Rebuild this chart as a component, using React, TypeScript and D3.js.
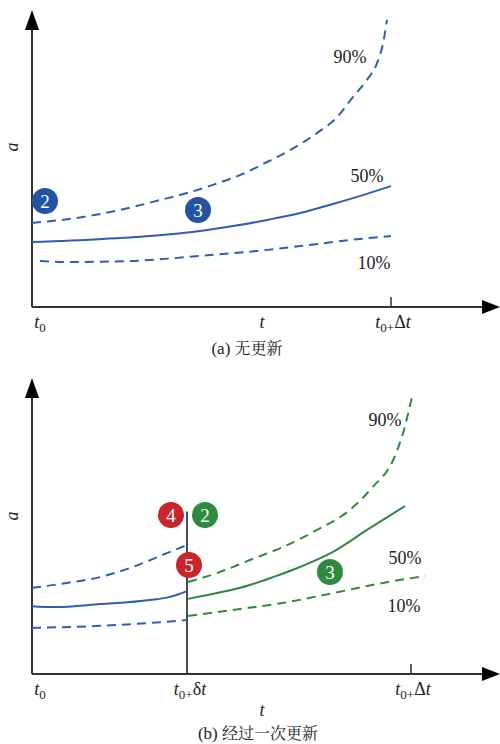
import React from 'react'
import * as d3 from 'd3'

// time in % of Δt, value a in % of plot height
const topP90 = [[0, 29], [12.5, 30.7], [28.1, 34.5], [35.7, 36.9], [43.2, 39.3], [50.4, 42.1], [57.9, 45.5], [65.5, 50], [71.9, 54.1], [79.4, 60], [85, 65.5], [89.4, 72.4], [93.3, 78.3], [96.1, 84.1], [97.8, 91], [98.9, 99]]
const topP50 = [[0, 22.4], [18.7, 23.4], [32.9, 24.5], [46.8, 26.2], [56, 27.9], [65.5, 30], [74.7, 32.4], [83.8, 35.5], [93.3, 39], [100, 41.7]]
const topP10 = [[2.2, 15.9], [9.7, 15.5], [28.1, 15.9], [46.8, 17.6], [65.5, 19.7], [74.7, 21], [88.6, 23.1], [100, 24.5]]

const oldP90 = [[0, 29.7], [9.2, 31.4], [17.9, 33.4], [26.6, 36.9], [35.6, 41.7], [40.9, 44.5]]
const oldP50 = [[0, 23.4], [6.1, 23.1], [17.9, 24.1], [31.1, 25.5], [36.4, 26.6], [40.9, 28.6]]
const oldP10 = [[0, 15.9], [17.9, 16.6], [31.1, 17.6], [40.9, 18.6]]

const newP90 = [[41.2, 31.7], [48.8, 34.8], [57.5, 39.3], [66.2, 43.8], [75.2, 49.7], [83.9, 56.6], [89.9, 64.5], [95.3, 73.8], [97.9, 83.1], [100.5, 96.9]]
const newP50 = [[41.2, 25.9], [48.8, 27.9], [57.5, 30.7], [63.6, 33.4], [70.7, 36.9], [79.4, 42.1], [88.4, 49.7], [98.4, 57.9]]
const newP10 = [[41.2, 20], [53, 22.1], [66.2, 24.5], [79.4, 27.9], [92.6, 31.4], [103.7, 33.8]]

const updateT = 40.9
const updateTop = 56

const BLUE = '#2f5db5'
const BLUE_DOT = '#2553a3'
const GREEN = '#2f8a40'
const RED = '#c9252c'
const AXIS = '#333'
const SERIF = "'Liberation Serif'"
const CJK = "'Noto Serif CJK SC'"

type Pt = number[]

function Curve({ pts, x, y, color, dashed }: { pts: Pt[]; x: any; y: any; color: string; dashed?: boolean }) {
  const line = d3.line<Pt>().x(d => x(d[0])).y(d => y(d[1])).curve(d3.curveMonotoneX)
  return <path d={line(pts) || ''} fill="none" stroke={color} strokeWidth={2} strokeDasharray={dashed ? '9,6' : undefined} />
}

function Badge({ cx, cy, n, color }: { cx: number; cy: number; n: string; color: string }) {
  return (
    <g>
      <circle cx={cx} cy={cy} r={13} fill={color} />
      <text x={cx} y={cy + 6.5} textAnchor="middle" fill="#fff" style={{ fontSize: 19, fontFamily: SERIF }}>{n}</text>
    </g>
  )
}

function Label({ x, y, children, size = 18, italic, anchor = 'middle', transform }: any) {
  return (
    <text x={x} y={y} transform={transform} textAnchor={anchor} fill="#222"
      style={{ fontSize: size, fontFamily: SERIF, fontStyle: italic ? 'italic' : 'normal' }}>{children}</text>
  )
}

function TickLabel({ x, y, delta }: { x: number; y: number; delta?: string }) {
  return (
    <Label x={x} y={y}>
      <tspan style={{ fontStyle: 'italic' }}>t</tspan>
      <tspan style={{ fontSize: 13 }} dy={4}>0{delta ? '+' : ''}</tspan>
      {delta ? <tspan dy={-4}>{delta}<tspan style={{ fontStyle: 'italic' }}>t</tspan></tspan> : null}
    </Label>
  )
}

function Caption({ x, y, tag, zh }: { x: number; y: number; tag: string; zh: string }) {
  return (
    <text x={x} y={y} textAnchor="middle" fill="#222" style={{ fontSize: 17, fontFamily: SERIF }}>
      {tag} <tspan style={{ fontFamily: CJK, fontSize: 16 }}>{zh}</tspan>
    </text>
  )
}

function Axes({ x0, y0, yTop, xEnd }: { x0: number; y0: number; yTop: number; xEnd: number }) {
  return (
    <g>
      <line x1={x0} y1={y0} x2={x0} y2={yTop + 18} stroke={AXIS} strokeWidth={2} />
      <path d={`M${x0},${yTop} L${x0 - 7},${yTop + 20} L${x0 + 7},${yTop + 20} Z`} fill="#000" />
      <line x1={x0} y1={y0} x2={xEnd - 16} y2={y0} stroke={AXIS} strokeWidth={2} />
      <path d={`M${xEnd},${y0} L${xEnd - 18},${y0 - 7} L${xEnd - 18},${y0 + 7} Z`} fill="#000" />
    </g>
  )
}

export default function App() {
  // panel (a)
  const xa = d3.scaleLinear().domain([0, 100]).range([32, 391])
  const ya = d3.scaleLinear().domain([0, 100]).range([307, 17])
  // panel (b)
  const xb = d3.scaleLinear().domain([0, 100]).range([32, 411])
  const yb = d3.scaleLinear().domain([0, 100]).range([674, 384])

  return (
    <svg width={500} height={744} style={{ position: 'absolute', left: 0, top: 0, background: '#fff' }}>
      {/* (a) */}
      <Axes x0={xa(0)} y0={ya(0)} yTop={10} xEnd={500} />
      <line x1={xa(100)} x2={xa(100)} y1={ya(0)} y2={ya(0) - 10} stroke={AXIS} strokeWidth={1.5} />
      <Curve pts={topP90} x={xa} y={ya} color={BLUE} dashed />
      <Curve pts={topP50} x={xa} y={ya} color={BLUE} />
      <Curve pts={topP10} x={xa} y={ya} color={BLUE} dashed />
      <Label x={350} y={63}>90%</Label>
      <Label x={367} y={182}>50%</Label>
      <Label x={374} y={269}>10%</Label>
      <Badge cx={45} cy={201} n="2" color={BLUE_DOT} />
      <Badge cx={198} cy={210} n="3" color={BLUE_DOT} />
      <Label x={0} y={0} transform="translate(18,147) rotate(-90)" italic>a</Label>
      <TickLabel x={40} y={328} />
      <Label x={262} y={328} italic>t</Label>
      <TickLabel x={393} y={328} delta="Δ" />
      <Caption x={247} y={354} tag="(a)" zh="无更新" />

      {/* (b) */}
      <Axes x0={xb(0)} y0={yb(0)} yTop={378} xEnd={500} />
      <line x1={xb(100)} x2={xb(100)} y1={yb(0)} y2={yb(0) - 10} stroke={AXIS} strokeWidth={1.5} />
      <line x1={xb(updateT)} x2={xb(updateT)} y1={yb(0)} y2={yb(updateTop)} stroke="#111" strokeWidth={1.5} />
      <Curve pts={oldP90} x={xb} y={yb} color={BLUE} dashed />
      <Curve pts={oldP50} x={xb} y={yb} color={BLUE} />
      <Curve pts={oldP10} x={xb} y={yb} color={BLUE} dashed />
      <Curve pts={newP90} x={xb} y={yb} color={GREEN} dashed />
      <Curve pts={newP50} x={xb} y={yb} color={GREEN} />
      <Curve pts={newP10} x={xb} y={yb} color={GREEN} dashed />
      <Label x={385} y={426}>90%</Label>
      <Label x={405} y={564}>50%</Label>
      <Label x={404} y={612}>10%</Label>
      <Badge cx={171} cy={515} n="4" color={RED} />
      <Badge cx={205} cy={515} n="2" color={GREEN} />
      <Badge cx={189} cy={565} n="5" color={RED} />
      <Badge cx={330} cy={572} n="3" color={GREEN} />
      <Label x={0} y={0} transform="translate(18,516) rotate(-90)" italic>a</Label>
      <TickLabel x={40} y={695} />
      <TickLabel x={190} y={695} delta="δ" />
      <TickLabel x={413} y={695} delta="Δ" />
      <Label x={262} y={716} italic>t</Label>
      <Caption x={258} y={739} tag="(b)" zh="经过一次更新" />
    </svg>
  )
}
